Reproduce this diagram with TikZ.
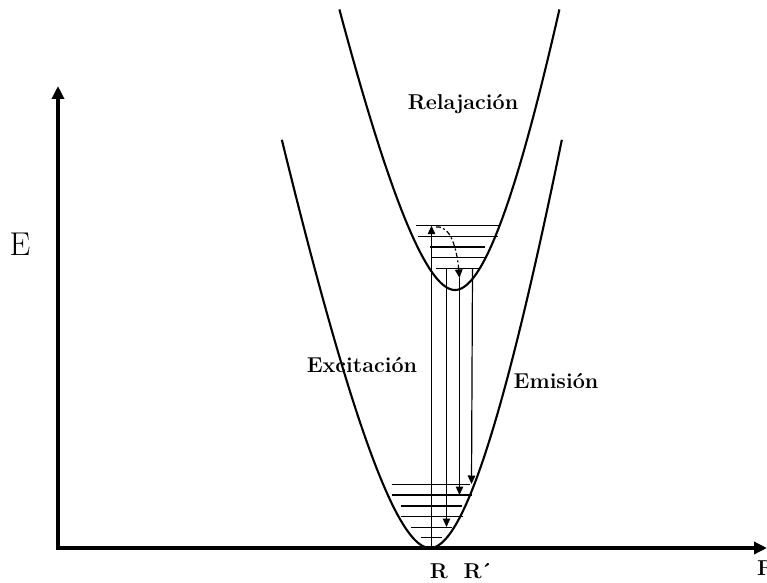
\documentclass[tikz,border=0pt]{standalone}
\usetikzlibrary{arrows.meta}
\begin{document}
\begin{tikzpicture}[x=1pt,y=1pt,
 curve/.style={line width=2.1pt},
 level/.style={line width=1.5pt},
 trans/.style={line width=1.2pt,-{Triangle[length=8.5pt,width=7.5pt]}},
 axis/.style={line width=3.6pt,-{Triangle[length=13pt,width=12pt]}},
 lab/.style={font=\fontsize{21.5}{25}\selectfont\bfseries,inner sep=0pt,anchor=base},
 declare function={D(\t)=3.965*(\t/10)*(\t/10)/(1+0.00646*abs(\t));}]
\useasboundingbox (0,0) rectangle (767,582);
% axes
\coordinate (O) at (58,32.2);
\coordinate (Ytop) at (58,496);
\coordinate (Xs) at (56.2,34);
\coordinate (Xend) at (767,34);
\draw[axis] (O) -- (Ytop);
\draw[axis] (Xs) -- (Xend);
% potential curves
\draw[curve] plot[domain=-140:140,samples=141,smooth] ({430+\x-0.02*D(\x)},{34+D(\x)});
\draw[curve] plot[domain=-110:110,samples=111,smooth] ({455+\x-0.02*D(\x)},{292+D(\x)});
% vibrational levels
\foreach \y/\a/\b in {356.3/416/499, 345.5/418/498, 335/430/485, 324.3/431/486, 313.5/436/480}
  \draw[level] (\a,\y) -- (\b,\y);
\foreach \y/\a/\b in {97.7/391.5/470, 87/391.5/472, 76/400.5/462, 65.3/400.5/463, 54.7/411/452, 44.3/420.5/441.5}
  \draw[level] (\a,\y) -- (\b,\y);
% transitions
\coordinate (g0) at (431.5,34);
\coordinate (e0) at (431.5,356.3);
\draw[trans] (g0) -- (e0);
\coordinate (d1) at (436,355);
\coordinate (e1) at (459.5,304);
\draw[trans,dash pattern=on 5pt off 2.5pt on 2pt off 2.5pt] (d1) .. controls (451,357) and (457,332) .. (e1);
\coordinate (g2) at (459.5,87);
\draw[trans] (e1) -- (g2);
\coordinate (e3) at (446.5,313.5);
\coordinate (g3) at (446.5,55);
\draw[trans] (e3) -- (g3);
\coordinate (e4) at (472.5,313.5);
\coordinate (g4) at (471.5,98);
\draw[trans] (e4) -- (g4);
% labels
\node[lab] (rel) at (463,472) {Relajación};
\node[lab] (exc) at (362,209.3) {Excitación};
\node[lab] (emi) at (556,193.7) {Emisión};
\node[font=\fontsize{33}{36}\selectfont,inner sep=0pt,anchor=base] (E) at (20,327) {E};
\node[lab] (R1) at (439,3.5) {R};
\node[lab] (R2) at (478,3.5) {R\kern-1.5pt´};
\node[lab,anchor=base west] (R3) at (757,7) {R};
\end{tikzpicture}
\end{document}
